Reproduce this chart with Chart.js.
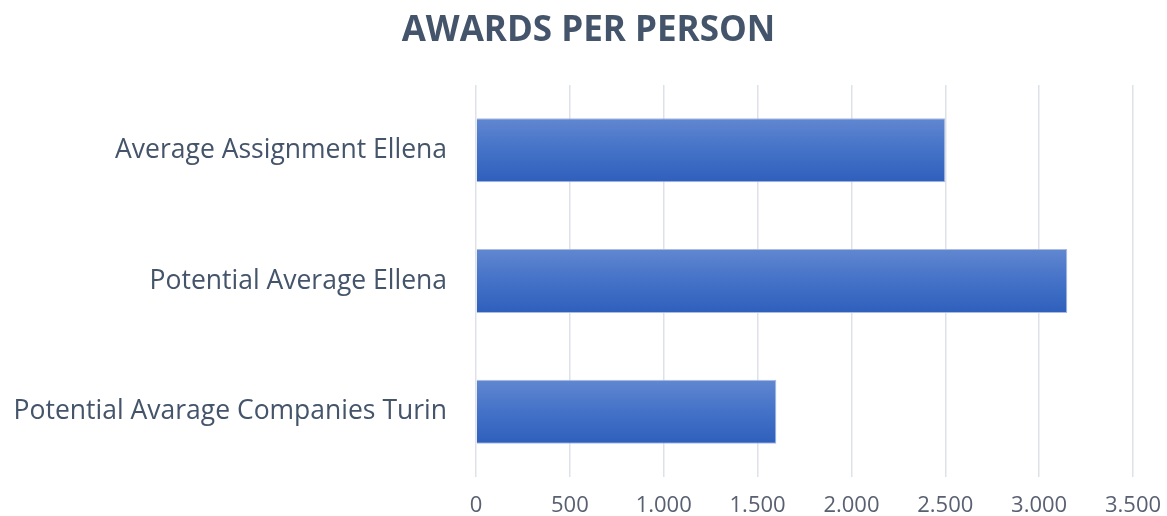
<!DOCTYPE html>
<html><head><meta charset="utf-8">
<script src="https://cdn.jsdelivr.net/npm/chart.js@4/dist/chart.umd.min.js"></script>
<style>html,body{margin:0;padding:0;background:#fff}#wrap{width:1167px;height:516px}</style>
</head><body><div id="wrap"><canvas id="c"></canvas></div>
<script>
const categories = ["Average Assignment Ellena", "Potential Average Ellena", "Potential Avarage Companies Turin"];
const awardValues = [2500, 3150, 1600];
const tickMin = 0, tickMax = 3500, tickStep = 500;

function fmt(v){ return String(v).replace(/\B(?=(\d{3})+(?!\d))/g, "."); }

function barGradient(context){
  const chart = context.chart;
  const ys = chart.scales && chart.scales.y;
  if (!chart.chartArea || !ys || context.dataIndex === undefined) return "#4472c4";
  const c = ys.getPixelForValue(context.dataIndex);
  const half = 32;
  const g = chart.ctx.createLinearGradient(0, c - half, 0, c + half);
  g.addColorStop(0, "#6187d0");
  g.addColorStop(0.5, "#4472c8");
  g.addColorStop(1, "#2e5fbb");
  return g;
}

new Chart(document.getElementById("c"), {
  type: "bar",
  data: { labels: categories, datasets: [{ data: awardValues, backgroundColor: barGradient, borderColor: "#a8bbe4", borderWidth: 1, barPercentage: 0.49, categoryPercentage: 1 }] },
  options: {
    indexAxis: "y", responsive: true, maintainAspectRatio: false, animation: false,
    layout: { padding: { left: 10, right: 0, top: 0, bottom: 0 } },
    plugins: {
      legend: { display: false }, tooltip: { enabled: false },
      title: { display: true, text: "AWARDS PER PERSON", color: "#44546a", font: { family: "Open Sans", size: 35, weight: "bold", lineHeight: 1.2 }, padding: { top: 10, bottom: 33 } }
    },
    scales: {
      x: { min: tickMin, max: tickMax, ticks: { stepSize: tickStep, callback: v => fmt(v), color: "#596070", font: { family: "Open Sans", size: 22, lineHeight: 1 }, padding: 18 },
           grid: { color: "#dde1e8", lineWidth: 1.5, drawTicks: false }, border: { display: false },
           afterFit: s => { s.height = 39; s.paddingRight = 34; s.paddingLeft = 0; } },
      y: { ticks: { color: "#44546a", font: { family: "Open Sans", size: 26.5 }, padding: 21 },
           grid: { display: false }, border: { display: false },
           afterFit: s => { s.width = 466; } }
    }
  }
});
</script></body></html>
